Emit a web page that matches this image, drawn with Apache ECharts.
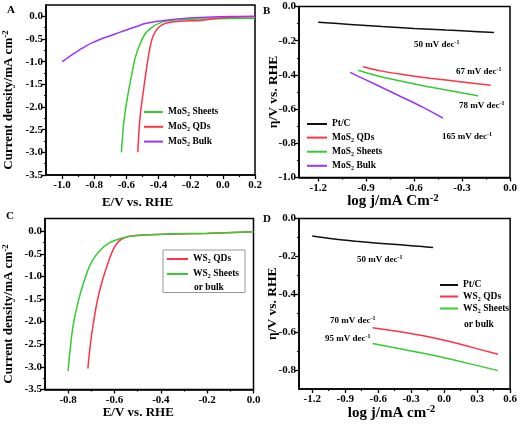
<!DOCTYPE html>
<html><head><meta charset="utf-8">
<script src="https://cdn.jsdelivr.net/npm/echarts@6/dist/echarts.min.js"></script>
<style>html,body{margin:0;padding:0;background:#fff}#c{width:520px;height:424px}</style>
</head><body><div id="c"></div>
<script>
// ---------------- DATA ----------------
// Panel A: polarization curves (E/V vs RHE, current density mA cm-2)
const aXTicks = [-1.0, -0.8, -0.6, -0.4, -0.2, 0.0, 0.2];
const aXMinor = [-0.9, -0.7, -0.5, -0.3, -0.1, 0.1];
const aYTicks = [-3.5, -3.0, -2.5, -2.0, -1.5, -1.0, -0.5, 0.0];
const aYMinor = [-3.25, -2.75, -2.25, -1.75, -1.25, -0.75, -0.25];
const mos2SheetsLSV = [[-0.631,-3.0],[-0.617,-2.37],[-0.597,-1.86],[-0.566,-1.27],[-0.545,-0.91],[-0.515,-0.61],[-0.484,-0.39],[-0.443,-0.25],[-0.402,-0.16],[-0.341,-0.10],[-0.239,-0.07],[-0.1,-0.058],[0.05,-0.05],[0.2,-0.045]];
const mos2QDsLSV = [[-0.529,-3.0],[-0.515,-2.23],[-0.494,-1.64],[-0.474,-1.13],[-0.453,-0.69],[-0.433,-0.43],[-0.402,-0.25],[-0.361,-0.16],[-0.3,-0.12],[-0.2,-0.1],[-0.137,-0.09],[-0.05,-0.05],[0.05,-0.02],[0.2,-0.01]];
const mos2BulkLSV = [[-1.0,-1.0],[-0.97,-0.93],[-0.933,-0.835],[-0.9,-0.76],[-0.85,-0.65],[-0.8,-0.565],[-0.75,-0.49],[-0.7,-0.43],[-0.647,-0.36],[-0.6,-0.3],[-0.545,-0.235],[-0.484,-0.16],[-0.423,-0.117],[-0.341,-0.08],[-0.239,-0.045],[-0.1,-0.02],[0.05,-0.005],[0.2,0.0]];

// Panel B: Tafel plots, MoS2
const bXTicks = [-1.2, -0.9, -0.6, -0.3, 0.0];
const bXMinor = [-1.05, -0.75, -0.45, -0.15];
const bYTicks = [-1.0, -0.8, -0.6, -0.4, -0.2, 0.0];
const bYMinor = [-0.9, -0.7, -0.5, -0.3, -0.1];
const ptcTafelB = [[-1.2,-0.092],[-1.0,-0.105],[-0.8,-0.117],[-0.6,-0.128],[-0.4,-0.138],[-0.2,-0.147],[-0.1,-0.152]];
const mos2QDsTafel = [[-0.92,-0.352],[-0.8,-0.378],[-0.65,-0.4],[-0.5,-0.419],[-0.3,-0.441],[-0.12,-0.461]];
const mos2SheetsTafel = [[-0.95,-0.373],[-0.85,-0.4],[-0.7,-0.433],[-0.55,-0.462],[-0.4,-0.488],[-0.2,-0.522]];
const mos2BulkTafel = [[-1.0,-0.385],[-0.85,-0.452],[-0.7,-0.519],[-0.55,-0.587],[-0.42,-0.652]];
const bAnnotations = ['50', '67', '78', '165'];

// Panel C: polarization curves, WS2
const cXTicks = [-0.8, -0.6, -0.4, -0.2, 0.0];
const cXMinor = [-0.7, -0.5, -0.3, -0.1];
const cYTicks = [-3.5, -3.0, -2.5, -2.0, -1.5, -1.0, -0.5, 0.0];
const cYMinor = [-3.25, -2.75, -2.25, -1.75, -1.25, -0.75, -0.25];
const ws2QDsLSV = [[-0.715,-3.04],[-0.705,-2.54],[-0.691,-2.03],[-0.673,-1.51],[-0.651,-1.07],[-0.623,-0.63],[-0.602,-0.37],[-0.581,-0.22],[-0.545,-0.125],[-0.496,-0.09],[-0.368,-0.066],[-0.2,-0.05],[0.0,-0.015]];
const ws2SheetsLSV = [[-0.8,-3.09],[-0.793,-2.69],[-0.779,-2.10],[-0.758,-1.58],[-0.729,-1.07],[-0.701,-0.70],[-0.665,-0.44],[-0.623,-0.26],[-0.566,-0.15],[-0.51,-0.10],[-0.368,-0.06],[-0.2,-0.045],[0.0,-0.015]];

// Panel D: Tafel plots, WS2
const dXTicks = [-1.2, -0.9, -0.6, -0.3, 0.0, 0.3, 0.6];
const dXMinor = [-1.05, -0.75, -0.45, -0.15, 0.15, 0.45];
const dYTicks = [-0.8, -0.6, -0.4, -0.2, 0.0];
const dYMinor = [-0.7, -0.5, -0.3, -0.1];
const ptcTafelD = [[-1.2,-0.092],[-1.0,-0.108],[-0.8,-0.12],[-0.6,-0.13],[-0.4,-0.139],[-0.2,-0.148],[-0.1,-0.153]];
const ws2QDsTafel = [[-0.65,-0.577],[-0.4,-0.598],[-0.2,-0.618],[0.0,-0.643],[0.2,-0.672],[0.49,-0.717]];
const ws2SheetsTafel = [[-0.65,-0.66],[-0.4,-0.688],[-0.2,-0.71],[0.0,-0.735],[0.2,-0.762],[0.49,-0.803]];
const dAnnotations = ['50', '70', '95'];

// ---------------- STYLE / LAYOUT ----------------
const SERIF = '"Liberation Serif","Times New Roman",serif';
const BLACK = '#111', RED = '#ff3344', GREEN = '#33cc33', PURPLE = '#9933ff';
const TXT_GREEN = '#33bb00';

function rich(size, color) {
  return {
    t: {fontFamily: SERIF, fontWeight: 'bold', fontSize: size, lineHeight: Math.round(size * 1.2), color: color},
    s: {fontFamily: SERIF, fontWeight: 'bold', fontSize: Math.round(size * 0.65), lineHeight: Math.round(size * 0.6), verticalAlign: 'bottom', color: color},
    sup: {fontFamily: SERIF, fontWeight: 'bold', fontSize: Math.round(size * 0.7), lineHeight: Math.round(size * 0.6), verticalAlign: 'top', color: color}
  };
}

const grids = [
  {left: 43, top: 5, width: 212, height: 170},
  {left: 299, top: 6.5, width: 211, height: 171},
  {left: 42, top: 218.5, width: 211.5, height: 171},
  {left: 299, top: 218.5, width: 212, height: 170.5}
].map(g => Object.assign(g, {show: true, borderColor: '#000', borderWidth: 1.5, backgroundColor: 'transparent', containLabel: false}));

function mainAxis(dim, gi, min, max, ticks, name, nameSize, nameGap, namePad) {
  return {
    type: 'value', gridIndex: gi, min: min, max: max,
    position: dim === 'x' ? 'bottom' : 'left',
    axisLine: {show: true, onZero: false, lineStyle: {color: '#000', width: 1.6}},
    axisTick: {show: true, inside: false, length: 4, customValues: ticks, lineStyle: {color: '#000', width: 1.3}},
    axisLabel: {show: true, customValues: ticks, margin: dim === 'x' ? 5 : 3, formatter: v => v.toFixed(1),
      color: '#000', fontFamily: SERIF, fontWeight: 'bold', fontSize: 11},
    splitLine: {show: false},
    name: name, nameLocation: 'middle', nameGap: nameGap, nameRotate: dim === 'y' ? 90 : 0,
    nameMoveOverlap: false,
    nameTextStyle: {padding: namePad, rich: rich(nameSize, '#000')}
  };
}
function minorAxis(dim, gi, min, max, minors) {
  return {
    type: 'value', gridIndex: gi, min: min, max: max,
    position: dim === 'x' ? 'bottom' : 'left',
    axisLine: {show: false, onZero: false},
    axisTick: {show: true, inside: false, length: 2, customValues: minors, lineStyle: {color: '#000', width: 1.2}},
    axisLabel: {show: false},
    splitLine: {show: false}
  };
}

const xAxis = [
  mainAxis('x', 0, -1.1, 0.2, aXTicks, '{t|E/V vs. RHE}', 13, 20, [0, 26, 0, 0]),
  minorAxis('x', 0, -1.1, 0.2, aXMinor),
  mainAxis('x', 1, -1.32, 0.0, bXTicks, '{t|log j/mA Cm}{sup|-2}', 15, 15, [0, 23, 0, 0]),
  minorAxis('x', 1, -1.32, 0.0, bXMinor),
  mainAxis('x', 2, -0.9, 0.0, cXTicks, '{t|E/V vs. RHE}', 13, 15, [0, 22, 0, 0]),
  minorAxis('x', 2, -0.9, 0.0, cXMinor),
  mainAxis('x', 3, -1.32, 0.6, dXTicks, '{t|log j/mA cm}{sup|-2}', 15, 15, [0, 26, 0, 0]),
  minorAxis('x', 3, -1.32, 0.6, dXMinor)
];
const yAxis = [
  mainAxis('y', 0, -3.5, 0.25, aYTicks, '{t|Current density/mA cm}{sup|-2}', 13, 29, [0, 20, 0, 0]),
  minorAxis('y', 0, -3.5, 0.25, aYMinor),
  mainAxis('y', 1, -1.0, 0.0, bYTicks, '{t|η/V vs. RHE}', 13.5, 17, [0, 0, 0, 0]),
  minorAxis('y', 1, -1.0, 0.0, bYMinor),
  mainAxis('y', 2, -3.5, 0.28, cYTicks, '{t|Current density/mA cm}{sup|-2}', 13, 28, [0, 20, 0, 0]),
  minorAxis('y', 2, -3.5, 0.28, cYMinor),
  mainAxis('y', 3, -0.9, 0.0, dYTicks, '{t|η/V vs. RHE}', 13.5, 18.5, [0, 0, 0, 0]),
  minorAxis('y', 3, -0.9, 0.0, dYMinor)
];

function line(name, gi, data, color) {
  return {name: name, type: 'line', xAxisIndex: 2 * gi, yAxisIndex: 2 * gi, data: data,
    symbol: 'none', showSymbol: false, smooth: 0.35,
    lineStyle: {color: color, width: 1.5}, itemStyle: {color: color}, animation: false};
}
const series = [
  line('MoS2 Sheets', 0, mos2SheetsLSV, GREEN),
  line('MoS2 QDs', 0, mos2QDsLSV, RED),
  line('MoS2 Bulk', 0, mos2BulkLSV, PURPLE),
  line('Pt/C', 1, ptcTafelB, BLACK),
  line('MoS2 QDs', 1, mos2QDsTafel, RED),
  line('MoS2 Sheets', 1, mos2SheetsTafel, GREEN),
  line('MoS2 Bulk', 1, mos2BulkTafel, PURPLE),
  line('WS2 QDs', 2, ws2QDsLSV, RED),
  line('WS2 Sheets', 2, ws2SheetsLSV, GREEN),
  line('Pt/C', 3, ptcTafelD, BLACK),
  line('WS2 QDs', 3, ws2QDsTafel, RED),
  line('WS2 Sheets', 3, ws2SheetsTafel, GREEN)
];

function legendFmt(name) {
  const m = name.match(/^(MoS|WS)2(.*)$/);
  return m ? '{t|' + m[1] + '}{s|2}{t|' + m[2] + '}' : '{t|' + name + '}';
}
function legend(left, top, names, gap, iw, extra) {
  return Object.assign({
    left: left, top: top, orient: 'vertical', data: names, icon: 'rect',
    itemWidth: iw, itemHeight: 2, itemGap: gap, padding: 0, selectedMode: false,
    formatter: legendFmt, textStyle: {color: '#000', rich: rich(9.5, '#000')}
  }, extra || {});
}
const legends = [
  legend(144, 107, ['MoS2 Sheets', 'MoS2 QDs', 'MoS2 Bulk'], 4.3, 19),
  legend(307, 119, ['Pt/C', 'MoS2 QDs', 'MoS2 Sheets', 'MoS2 Bulk'], 3.6, 20),
  legend(163, 250, ['WS2 QDs', 'WS2 Sheets'], 4.5, 21, {padding: [4, 6, 13, 4], borderColor: '#999', borderWidth: 1}),
  legend(440, 280, ['Pt/C', 'WS2 QDs', 'WS2 Sheets'], 1.5, 18)
];

function txt(x, y, text, color, size, align) {
  return {type: 'text', x: x, y: y, silent: true,
    style: {text: text, rich: rich(size, color), align: align || 'left', verticalAlign: 'middle'}};
}
const graphic = [
  txt(7, 10, '{t|A}', '#000', 11),
  txt(263, 11, '{t|B}', '#000', 11),
  txt(6, 216, '{t|C}', '#000', 11),
  txt(263, 219, '{t|D}', '#000', 11),
  txt(414, 45, '{t|' + bAnnotations[0] + ' mV dec}{sup|-1}', '#000', 9),
  txt(456, 72, '{t|' + bAnnotations[1] + ' mV dec}{sup|-1}', '#ff2020', 9),
  txt(459, 106, '{t|' + bAnnotations[2] + ' mV dec}{sup|-1}', TXT_GREEN, 9),
  txt(442, 137, '{t|' + bAnnotations[3] + ' mV dec}{sup|-1}', PURPLE, 9),
  txt(357, 260, '{t|' + dAnnotations[0] + ' mV dec}{sup|-1}', '#000', 9),
  txt(330, 321, '{t|' + dAnnotations[1] + ' mV dec}{sup|-1}', '#ff2020', 9),
  txt(325, 339, '{t|' + dAnnotations[2] + ' mV dec}{sup|-1}', TXT_GREEN, 9),
  txt(194, 288, '{t|or bulk}', '#000', 9.5),
  txt(464, 325, '{t|or bulk}', '#000', 9.5)
];

const chart = echarts.init(document.getElementById('c'), null, {renderer: 'canvas'});
chart.setOption({
  animation: false,
  grid: grids, xAxis: xAxis, yAxis: yAxis, series: series,
  legend: legends, graphic: graphic
});
</script></body></html>
